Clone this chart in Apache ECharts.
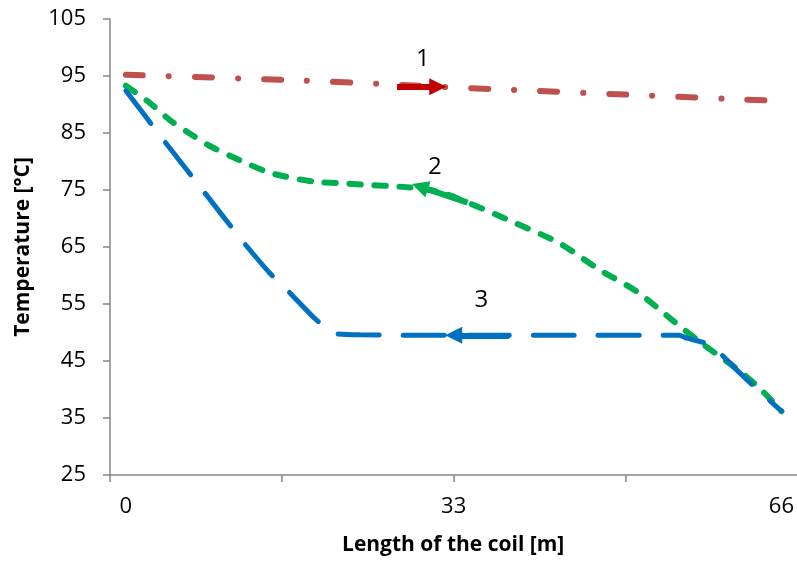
<!DOCTYPE html>
<html>
<head>
<meta charset="utf-8">
<script src="https://cdn.jsdelivr.net/npm/echarts@6/dist/echarts.min.js"></script>
<style>
  html, body { margin: 0; padding: 0; background: #fff; }
  #main { width: 797px; height: 562px; }
</style>
</head>
<body>
<div id="main"></div>
<script>
// curve 1 - red dash dot
var x1 = [0, 11, 22, 33, 44, 55, 66];
var y1 = [95.2, 94.6, 93.9, 93.0, 92.2, 91.4, 90.6];
// curve 2 - green dashed
var x2 = [0, 2.4, 4.4, 6.7, 8.7, 11.5, 14.2, 16.2, 19.2, 21.5, 24.2, 26.5, 29.5, 32, 34.7, 39.2, 43.6, 47.6, 51.5, 55.2, 57.9, 61.3, 63.7, 66];
var y2 = [93.3, 90.3, 87.3, 84.6, 82.5, 80.2, 78.2, 77.3, 76.4, 76.2, 75.9, 75.7, 75.3, 74.4, 72.6, 69.2, 65.7, 61.1, 57.1, 51.9, 48.2, 43.9, 40.4, 36.2];
// curve 3 - blue long dash
var x3 = [0, 4, 7.9, 11.8, 14.5, 16.2, 19.0, 20.8, 23.5, 33, 44, 55.7, 56.5, 58.9, 61.7, 63.4, 66];
var y3 = [92.4, 83.3, 74.6, 65.9, 60.4, 57.5, 52.5, 49.9, 49.6, 49.5, 49.5, 49.5, 49.0, 47.8, 43.1, 40.3, 36.2];

// annotations: arrows (from -> to) and curve numbers
var arrow1 = [[27.3, 93.1], [31.4, 93.1]];
var arrow2 = [[34.4, 72.8], [29.6, 75.6]];
var arrow3 = [[38.6, 49.5], [33.0, 49.5]];
var curveNames = ['1', '2', '3'];
var namePos = [[29.9, 98.0], [31.1, 79.0], [35.8, 55.7]];

var yTicks = [25, 35, 45, 55, 65, 75, 85, 95, 105];
var xLabels = [0, 33, 66];
var xTicks = [-1.6, 15.7, 33, 50.3];

function pairs(xs, ys) {
    return xs.map(function (x, i) { return [x, ys[i]]; });
}

var font = 'Open Sans';
var axisColor = '#868686';

function arrowLine(pts, color) {
    return {
        silent: true,
        animation: false,
        symbol: ['none', 'triangle'],
        symbolSize: [17, 17],
        label: { show: false },
        lineStyle: { color: color, width: 6, type: 'solid' },
        emphasis: { disabled: true },
        data: [[{ coord: pts[0] }, { coord: pts[1] }]]
    };
}

function nameMark(i) {
    return {
        silent: true,
        animation: false,
        symbolSize: 0,
        label: {
            show: true, position: 'inside', formatter: curveNames[i],
            color: '#000', fontFamily: font, fontSize: 24
        },
        data: [{ coord: namePos[i] }]
    };
}

var chart = echarts.init(document.getElementById('main'));
chart.setOption({
    animation: false,
    grid: { left: 110, right: 0, top: 19, bottom: 87 },
    xAxis: {
        type: 'value',
        min: -1.6,
        max: 67.5,
        name: 'Length of the coil [m]',
        nameLocation: 'middle',
        nameGap: 60,
        nameTextStyle: { fontFamily: font, fontSize: 21, fontWeight: 'bold', color: '#000' },
        axisLine: { onZero: false, lineStyle: { color: axisColor, width: 1.5 } },
        axisTick: { show: true, length: 7, customValues: xTicks, lineStyle: { color: axisColor, width: 1.5 } },
        axisLabel: { customValues: xLabels, margin: 21, fontFamily: font, fontSize: 22, color: '#000' },
        splitLine: { show: false }
    },
    yAxis: {
        type: 'value',
        min: 25,
        max: 105,
        interval: 10,
        name: 'Temperature [°C]',
        nameLocation: 'middle',
        nameGap: 76,
        nameTextStyle: { fontFamily: font, fontSize: 21, fontWeight: 'bold', color: '#000' },
        axisLine: { show: true, onZero: false, lineStyle: { color: axisColor, width: 1.5 } },
        axisTick: { show: true, length: 7, customValues: yTicks, lineStyle: { color: axisColor, width: 1.5 } },
        axisLabel: { customValues: yTicks, margin: 24, fontFamily: font, fontSize: 22, color: '#000' },
        splitLine: { show: false }
    },
    series: [
        {
            type: 'line',
            data: pairs(x1, y1),
            smooth: true,
            showSymbol: false,
            lineStyle: { color: '#C0504D', width: 6, cap: 'round', type: [17, 26, 0.1, 26] },
            markLine: arrowLine(arrow1, '#C00000'),
            markPoint: nameMark(0),
            z: 3
        },
        {
            type: 'line',
            data: pairs(x2, y2),
            smooth: 0.3,
            showSymbol: false,
            lineStyle: { color: '#00B050', width: 6, cap: 'round', type: [11, 14] },
            markLine: arrowLine(arrow2, '#00B050'),
            markPoint: nameMark(1),
            z: 2
        },
        {
            type: 'line',
            data: pairs(x3, y3),
            smooth: 0.15,
            showSymbol: false,
            lineStyle: { color: '#0070C0', width: 5, cap: 'round', type: [41, 24] },
            markLine: arrowLine(arrow3, '#0070C0'),
            markPoint: nameMark(2),
            z: 4
        }
    ]
});
</script>
</body>
</html>
